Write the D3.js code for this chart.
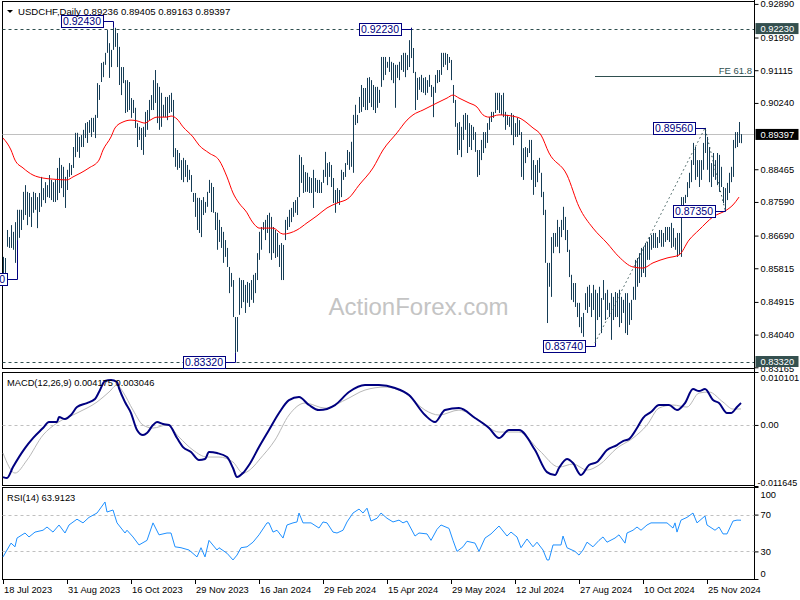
<!DOCTYPE html>
<html><head><meta charset="utf-8">
<script src="https://cdn.jsdelivr.net/npm/d3@7"></script>
<style>body{margin:0;background:#fff}svg{display:block}text{font-family:"Liberation Sans",Arial,sans-serif}</style>
</head><body>
<svg id="c" width="800" height="600"></svg>
<script>
const highs=[
0.8612,0.8609,0.8684,0.8665,0.8697,0.8679,0.8705,0.8738,0.8738,0.8738,
0.8786,0.8804,0.8786,0.8783,0.8772,0.8786,0.8783,0.8772,0.8783,0.8826,
0.8796,0.8812,0.8804,0.8831,0.8818,0.8812,0.8818,0.8850,0.8877,0.8858,
0.8853,0.8826,0.8845,0.8863,0.8858,0.8906,0.8944,0.8944,0.8933,0.8938,
0.8952,0.8970,0.8973,0.8978,0.8984,0.8984,0.8992,0.9077,0.9072,0.9131,
0.9134,0.9158,0.9219,0.9184,0.9166,0.9225,0.9225,0.9211,0.9174,0.9120,
0.9120,0.9085,0.9085,0.9080,0.9037,0.9032,0.9011,0.8970,0.8960,0.8957,
0.8960,0.9000,0.9005,0.9032,0.9045,0.9085,0.9112,0.9077,0.9067,0.9051,
0.9019,0.9040,0.9040,0.9045,0.9051,0.9032,0.8903,0.8898,0.8890,0.8871,
0.8877,0.8871,0.8858,0.8845,0.8831,0.8783,0.8783,0.8770,0.8770,0.8764,
0.8772,0.8759,0.8786,0.8818,0.8810,0.8799,0.8732,0.8730,0.8711,0.8692,
0.8679,0.8657,0.8636,0.8585,0.8569,0.8550,0.8451,0.8451,0.8556,0.8550,
0.8550,0.8537,0.8545,0.8542,0.8550,0.8564,0.8569,0.8622,0.8679,0.8692,
0.8705,0.8711,0.8724,0.8730,0.8719,0.8692,0.8684,0.8676,0.8644,0.8649,
0.8644,0.8711,0.8719,0.8738,0.8743,0.8759,0.8764,0.8772,0.8885,0.8879,
0.8858,0.8839,0.8837,0.8826,0.8823,0.8845,0.8823,0.8818,0.8818,0.8812,
0.8845,0.8893,0.8863,0.8866,0.8858,0.8823,0.8791,0.8796,0.8791,0.8845,
0.8839,0.8863,0.8898,0.8893,0.8920,0.8992,0.9019,0.8992,0.9040,0.9072,
0.9064,0.9064,0.9091,0.9093,0.9085,0.9072,0.9067,0.9067,0.9059,0.9147,
0.9147,0.9147,0.9134,0.9147,0.9134,0.9131,0.9126,0.9126,0.9134,0.9152,
0.9158,0.9158,0.9152,0.9192,0.9225,0.9171,0.9107,0.9091,0.9093,0.9099,
0.9091,0.9093,0.9085,0.9099,0.9072,0.9067,0.9099,0.9112,0.9112,0.9158,
0.9158,0.9158,0.9155,0.9147,0.9139,0.9072,0.9032,0.8970,0.8973,0.8960,
0.8992,0.8997,0.8992,0.8970,0.8965,0.8960,0.8946,0.8898,0.8898,0.8925,
0.8946,0.8946,0.8970,0.8986,0.9000,0.9000,0.9051,0.9051,0.9051,0.9045,
0.9051,0.9000,0.8992,0.8986,0.8997,0.8992,0.8970,0.8984,0.8978,0.8946,
0.8903,0.8906,0.8903,0.8925,0.8925,0.8871,0.8858,0.8871,0.8877,0.8837,
0.8786,0.8738,0.8596,0.8596,0.8665,0.8676,0.8676,0.8711,0.8692,0.8711,
0.8746,0.8719,0.8684,0.8631,0.8564,0.8542,0.8542,0.8489,0.8489,0.8451,
0.8462,0.8515,0.8532,0.8537,0.8515,0.8537,0.8524,0.8515,0.8532,0.8502,
0.8550,0.8515,0.8524,0.8489,0.8515,0.8505,0.8518,0.8515,0.8524,0.8505,
0.8497,0.8515,0.8515,0.8489,0.8497,0.8532,0.8604,0.8609,0.8622,0.8636,
0.8639,0.8649,0.8652,0.8665,0.8671,0.8676,0.8676,0.8665,0.8684,0.8684,
0.8676,0.8692,0.8692,0.8692,0.8703,0.8689,0.8663,0.8676,0.8676,0.8772,
0.8772,0.8778,0.8812,0.8837,0.8871,0.8917,0.8906,0.8871,0.8871,0.8871,
0.8917,0.8957,0.8933,0.8906,0.8863,0.8890,0.8871,0.8890,0.8885,0.8853,
0.8799,0.8796,0.8810,0.8837,0.8853,0.8925,0.8946,0.8946,0.8973,0.89405];
const lows=[
0.8558,0.8569,0.8639,0.8636,0.8636,0.8631,0.8596,0.8657,0.8663,0.8684,
0.8711,0.8724,0.8697,0.8719,0.8692,0.8730,0.8738,0.8689,0.8732,0.8746,
0.8764,0.8756,0.8772,0.8770,0.8764,0.8759,0.8759,0.8764,0.8783,0.8796,
0.8772,0.8743,0.8791,0.8826,0.8831,0.8850,0.8879,0.8893,0.8877,0.8906,
0.8906,0.8930,0.8917,0.8944,0.8933,0.8946,0.8930,0.8984,0.9032,0.9080,
0.9093,0.9126,0.9158,0.9091,0.9120,0.9166,0.9174,0.9120,0.9072,0.9045,
0.9077,0.8997,0.9000,0.9005,0.8984,0.8997,0.8957,0.8906,0.8925,0.8898,
0.8885,0.8933,0.8952,0.8978,0.9005,0.9005,0.9024,0.8970,0.8952,0.8960,
0.8986,0.8986,0.8978,0.8997,0.9000,0.8879,0.8853,0.8845,0.8850,0.8818,
0.8812,0.8826,0.8812,0.8818,0.8786,0.8759,0.8719,0.8684,0.8676,0.8665,
0.8724,0.8730,0.8746,0.8783,0.8732,0.8730,0.8684,0.8631,0.8652,0.8636,
0.8596,0.8612,0.8585,0.8515,0.8532,0.8451,0.8355,0.8358,0.8457,0.8475,
0.8491,0.8462,0.8489,0.8478,0.8497,0.8489,0.8515,0.8550,0.8604,0.8631,
0.8684,0.8657,0.8676,0.8622,0.8604,0.8622,0.8609,0.8612,0.8585,0.8550,
0.8550,0.8657,0.8684,0.8692,0.8705,0.8719,0.8730,0.8724,0.8772,0.8810,
0.8783,0.8786,0.8786,0.8783,0.8783,0.8743,0.8786,0.8783,0.8783,0.8783,
0.8810,0.8826,0.8804,0.8826,0.8799,0.8756,0.8730,0.8756,0.8751,0.8772,
0.8818,0.8826,0.8858,0.8845,0.8853,0.8837,0.8965,0.8970,0.8997,0.9000,
0.9013,0.9005,0.9005,0.9024,0.9013,0.9005,0.8997,0.9011,0.9024,0.9067,
0.9085,0.9099,0.9118,0.9107,0.9085,0.9077,0.9011,0.9091,0.9085,0.9112,
0.9107,0.9093,0.9112,0.9120,0.9144,0.9104,0.9005,0.9032,0.9059,0.9053,
0.9051,0.9045,0.9051,0.9067,0.9040,0.8986,0.9051,0.9077,0.9080,0.9099,
0.9120,0.9126,0.9112,0.9131,0.9085,0.9024,0.8960,0.8885,0.8898,0.8879,
0.8925,0.8952,0.8890,0.8906,0.8898,0.8925,0.8893,0.8826,0.8831,0.8871,
0.8890,0.8903,0.8917,0.8952,0.8973,0.8984,0.8997,0.9005,0.8997,0.8992,
0.8986,0.8952,0.8965,0.8960,0.8938,0.8911,0.8933,0.8933,0.8938,0.8826,
0.8818,0.8863,0.8879,0.8890,0.8818,0.8778,0.8799,0.8812,0.8837,0.8772,
0.8724,0.8596,0.8435,0.8532,0.8505,0.8622,0.8639,0.8639,0.8622,0.8665,
0.8684,0.8657,0.8625,0.8558,0.8497,0.8491,0.8478,0.8451,0.8424,0.8408,
0.8398,0.8470,0.8462,0.8478,0.8451,0.8470,0.8382,0.8443,0.8451,0.8408,
0.8497,0.8443,0.8470,0.8451,0.8390,0.8443,0.8451,0.8451,0.8424,0.8435,
0.8462,0.8408,0.8403,0.8430,0.8443,0.8497,0.8497,0.8532,0.8542,0.8558,
0.8569,0.8558,0.8604,0.8604,0.8631,0.8636,0.8636,0.8636,0.8649,0.8639,
0.8639,0.8652,0.8657,0.8652,0.8636,0.8639,0.8631,0.8612,0.8617,0.8612,
0.8730,0.8756,0.8772,0.8796,0.8812,0.8858,0.8818,0.8826,0.8799,0.8818,
0.8845,0.8890,0.8845,0.8812,0.8799,0.8826,0.8818,0.8804,0.8786,0.8799,
0.8756,0.8738,0.8764,0.8783,0.8812,0.8826,0.8903,0.8906,0.8917,0.89163];

const maIdx=[0,4,6,10,15,20,25,32,35,39,43,48,50,54,56,60,64,67,71,73,77,82,84,87,90,95,98,103,108,112,115,118,122,124,127,128,135,140,147,152,157,162,167,173,178,185,190,197,202,205,210,217,222,225,228,233,237,240,243,248,257,265,269,273,282,288,295,302,308,315,320,325,332,338,343,348,355,362,365,368];
const maVal=[0.8930,0.8898,0.8871,0.8850,0.8831,0.8823,0.8820,0.8818,0.8826,0.8837,0.8850,0.8871,0.8898,0.8933,0.8957,0.8973,0.8978,0.8976,0.8970,0.8976,0.8986,0.8986,0.8989,0.8981,0.8960,0.8933,0.8911,0.8890,0.8871,0.8826,0.8783,0.8756,0.8730,0.8711,0.8692,0.8689,0.8689,0.8673,0.8684,0.8703,0.8722,0.8743,0.8756,0.8770,0.8804,0.8850,0.8898,0.8944,0.8978,0.8992,0.9005,0.9024,0.9037,0.9045,0.9037,0.9024,0.9013,0.8992,0.8986,0.8992,0.8986,0.8957,0.8938,0.8890,0.8831,0.8746,0.8689,0.8649,0.8612,0.8585,0.8582,0.8596,0.8609,0.8617,0.8657,0.8684,0.8719,0.8738,0.8751,0.8772];

const macdIdx=[0,2,5,11,15,20,23,27,28,31,34,37,42,46,48,51,54,57,58,61,64,67,70,72,75,77,80,83,87,90,94,98,101,103,107,112,115,117,120,123,128,133,138,143,148,153,158,166,173,181,188,196,203,211,216,221,228,236,243,248,253,258,266,272,276,278,282,285,289,293,297,302,307,310,313,317,320,324,328,333,337,341,345,348,351,355,358,362,364,367,369];
const macdVal=[-0.00994,-0.01013,-0.00803,-0.00441,-0.00250,-0.00059,0.00055,0.00055,0.00151,0.00113,0.00189,0.00341,0.00418,0.00494,0.00628,0.00838,0.00857,0.00819,0.00704,0.00437,0.00227,-0.00097,-0.00193,-0.00155,-0.00002,0.00055,0.00017,-0.00002,-0.00250,-0.00422,-0.00517,-0.00670,-0.00650,-0.00517,-0.00536,-0.00612,-0.00822,-0.00994,-0.00918,-0.00765,-0.00422,-0.00097,0.00227,0.00475,0.00532,0.00380,0.00284,0.00380,0.00628,0.00761,0.00761,0.00704,0.00570,0.00189,0.00055,0.00284,0.00322,0.00132,-0.00059,-0.00250,-0.00097,-0.00097,-0.00479,-0.00899,-0.00956,-0.00822,-0.00650,-0.00727,-0.00956,-0.00765,-0.00708,-0.00479,-0.00383,-0.00307,-0.00269,-0.00059,0.00132,0.00246,0.00380,0.00380,0.00284,0.00418,0.00685,0.00647,0.00685,0.00475,0.00418,0.00227,0.00227,0.00341,0.00418];
const sigIdx=[0,6,12,20,27,37,47,53,57,60,65,70,75,82,88,95,102,108,115,120,125,128,136,143,151,161,171,181,191,201,211,218,228,238,248,258,268,278,285,292,298,307,315,322,328,335,342,348,353,360,365,369];
const sigVal=[-0.00536,-0.00918,-0.00670,-0.00193,0.00036,0.00227,0.00437,0.00628,0.00761,0.00628,0.00284,-0.00002,-0.00059,-0.00002,-0.00231,-0.00479,-0.00612,-0.00612,-0.00708,-0.00918,-0.00803,-0.00670,-0.00288,0.00189,0.00418,0.00322,0.00475,0.00666,0.00723,0.00609,0.00284,0.00189,0.00284,0.00093,-0.00135,-0.00135,-0.00479,-0.00803,-0.00746,-0.00860,-0.00765,-0.00441,-0.00250,-0.00002,0.00322,0.00380,0.00341,0.00609,0.00628,0.00437,0.00303,0.00305];

const rsiIdx=[0,2,4,6,7,11,13,16,20,22,25,28,31,33,37,40,43,47,51,52,55,57,61,62,65,68,72,75,78,82,84,86,89,93,97,99,101,103,107,108,112,115,117,119,122,125,128,132,133,135,137,140,142,145,147,148,150,154,158,160,162,165,167,170,172,175,178,180,182,184,187,189,192,195,198,200,202,206,208,212,214,217,219,223,225,227,230,232,236,238,241,244,248,252,254,257,259,262,265,267,270,272,273,275,279,280,282,286,288,290,292,295,298,300,302,306,308,311,312,315,317,319,322,324,327,332,335,336,337,339,342,345,347,351,352,356,358,360,362,365,367,369];
const rsiVal=[24,31.5,39,35,44.5,50,45.7,51,53,56.5,51,58.7,50,58.7,65,61,67,71.7,83.7,72.8,75,61,50,53,45.7,37,42,61,48,50,50,35,34,31.5,24,34,24,42,31.5,34,28,20.7,26,34,35,40,48,61,61,51,53,44.5,58.7,61,62,71.7,61,61,55.4,62,61,51,50,53,62,71.7,76,71.7,77,63,66,71.7,66,62,64,61,63,46.7,50,49,42,54,58.7,55,42,30,35,41,39,30,44.5,49,57.6,46.7,51,45.7,34,43.5,35,40,31.5,20.7,20.7,37,37,46.7,34,30,26,31.5,40,35,42,45.7,40,44.5,48,39,50,53,56.5,53,58.7,61,61,61,55.4,61,51,64,67,71.7,61,68.5,58.7,53,56.5,49,49,63,64,63.9];

const priceTicks=[0.92890,0.91990,0.91115,0.90240,0.88465,0.87590,0.86690,0.85815,0.84915,0.84040,0.83165];
const macdTicks=[0.010101,0,-0.011645];
const macdTickLabels=["0.010101","0.00","-0.011645"];
const rsiTicks=[100,70,30,0];
const rsiLevels=[70,30];
const dateIdx=[0,32,64,96,128,160,192,224,256,288,320,352];
const dateLabels=["18 Jul 2023","31 Aug 2023","16 Oct 2023","29 Nov 2023","16 Jan 2024","29 Feb 2024","15 Apr 2024","29 May 2024","12 Jul 2024","27 Aug 2024","10 Oct 2024","25 Nov 2024"];
const hlines=[0.92230,0.83320];
const lastPrice=0.89397;
const feLevel=0.90960, feStart=296;
const zzIdx=[296,351,361], zzVal=[0.8382,0.8957,0.8738];
const labelText=["0.85520","0.92430","0.83320","0.92230","0.83740","0.89560","0.87350"];
const labelIdx=[7,55,116,204,296,351,361];
const labelVal=[0.85520,0.92430,0.83320,0.92230,0.83740,0.89560,0.87350];
const labelSide=["low","high","low","high","low","high","low"];
const markedVals=[0.92230,0.89397,0.83320];
const markedFill=["#34504f","#000","#34504f"];

const svg=d3.select("#c");
const L=2.5,R=754.5;
const x=d3.scaleLinear().domain([0,369]).range([3,741]);
const yP=d3.scaleLinear().domain([0.83165,0.92890]).range([367.3,3.9]);
const yM=d3.scaleLinear().domain([-0.011645,0.010101]).range([486,372]);
const yR=d3.scaleLinear().domain([0,100]).range([579,487]);
const F="Liberation Sans, Arial, sans-serif";
const ink="#163d56";

// frames
[[1.5,368.5],[372.5,485.5],[487.5,579.5]].forEach(([a,b])=>{
  svg.append("rect").attr("x",L).attr("y",a).attr("width",R-L).attr("height",b-a).attr("fill","none").attr("stroke","#000").attr("stroke-width",1);
});

// main panel
const gP=svg.append("g");
gP.append("text").attr("x",(L+R)/2+40).attr("y",315).attr("text-anchor","middle").attr("font-size",24).attr("fill","#c4c4c4").attr("font-family",F).text("ActionForex.com");
gP.append("line").attr("x1",L).attr("x2",R).attr("y1",Math.round(yP(lastPrice))+0.5).attr("y2",Math.round(yP(lastPrice))+0.5).attr("stroke","#c0c0c0");
gP.selectAll("line.hl").data(hlines).join("line").attr("class","hl").attr("x1",L).attr("x2",R)
  .attr("y1",d=>Math.round(yP(d))+0.5).attr("y2",d=>Math.round(yP(d))+0.5).attr("stroke","#2f4f4f").attr("stroke-dasharray","3,3");
gP.append("line").attr("x1",x(feStart)).attr("x2",R).attr("y1",Math.round(yP(feLevel))+0.5).attr("y2",Math.round(yP(feLevel))+0.5).attr("stroke","#2f4f4f");
gP.append("text").attr("x",752).attr("y",yP(feLevel)-2.5).attr("text-anchor","end").attr("font-size",9.5).attr("font-family",F).attr("fill","#2f4f4f").text("FE 61.8");

gP.selectAll("rect.bar").data(highs).join("rect").attr("class","bar")
  .attr("x",(d,i)=>Math.round(x(i))).attr("width",1)
  .attr("y",d=>yP(d)).attr("height",(d,i)=>Math.max(1,yP(lows[i])-yP(d))).attr("fill",ink);

const lineP=d3.line().x(d=>x(d[0])).y(d=>yP(d[1])).curve(d3.curveMonotoneX);
gP.append("path").attr("d",lineP(maIdx.map((d,i)=>[d,maVal[i]]))).attr("fill","none").attr("stroke","#ff0000").attr("stroke-width",1);
gP.append("path").attr("d",d3.line().x(d=>x(d[0])).y(d=>yP(d[1]))(zzIdx.map((d,i)=>[d,zzVal[i]])))
  .attr("fill","none").attr("stroke","#2f4f4f").attr("stroke-dasharray","1.5,3");

// price labels with connectors
labelText.forEach((t,k)=>{
  const bx=x(labelIdx[k]);
  const ly=yP(labelVal[k]);
  const by=labelSide[k]==="high"?yP(highs[labelIdx[k]]):yP(lows[labelIdx[k]]);
  const w=42,h=12;
  gP.append("path").attr("d",`M${bx-10},${Math.round(ly)+0.5}H${Math.round(bx)+0.5}V${by}`).attr("fill","none").attr("stroke","#000080");
  gP.append("rect").attr("x",Math.round(bx-10-w)+0.5).attr("y",Math.round(ly-h/2)+0.5).attr("width",w).attr("height",h).attr("fill","#fff").attr("stroke","#000080");
  gP.append("text").attr("x",bx-10-w/2).attr("y",ly+4).attr("text-anchor","middle").attr("font-size",10.5).attr("font-family",F).attr("fill","#000080").text(t);
});

// title
svg.append("path").attr("d","M7,10H13L10,13Z").attr("fill","#000");
svg.append("text").attr("x",18).attr("y",14.5).attr("font-size",9.6).attr("font-family",F).attr("fill","#000").text("USDCHF,Daily  0.89236 0.89405 0.89163 0.89397");

// price axis
const axP=svg.append("g").attr("transform",`translate(${R},0)`).call(d3.axisRight(yP).tickValues(priceTicks).tickSize(4).tickPadding(2).tickFormat(d3.format(".5f")));
axP.select(".domain").remove();
axP.selectAll("text").attr("font-size",9.3).attr("font-family",F).attr("fill","#000");
axP.selectAll("line").attr("stroke","#000");
axP.selectAll(".tick").filter(d=>d===0.83165).select("text").attr("dy","0.5em");
markedVals.forEach((v,k)=>{
  const yy=yP(v);
  svg.append("rect").attr("x",R+1).attr("y",yy-5.5).attr("width",43).attr("height",11).attr("fill",markedFill[k]);
  svg.append("text").attr("x",R+6).attr("y",yy+3.3).attr("font-size",9.3).attr("font-family",F).attr("fill","#fff").text(d3.format(".5f")(v));
});
svg.append("line").attr("x1",R).attr("x2",R).attr("y1",0).attr("y2",580).attr("stroke","#000");

// MACD panel
const gM=svg.append("g");
gM.append("line").attr("x1",L).attr("x2",R).attr("y1",Math.round(yM(0))+0.5).attr("y2",Math.round(yM(0))+0.5).attr("stroke","#c0c0c0").attr("stroke-dasharray","3,3");
const lineM=d3.line().x(d=>x(d[0])).y(d=>yM(d[1])).curve(d3.curveMonotoneX);
gM.append("path").attr("d",lineM(sigIdx.map((d,i)=>[d,sigVal[i]]))).attr("fill","none").attr("stroke","#b8b8b8").attr("stroke-width",1);
gM.append("path").attr("d",lineM(macdIdx.map((d,i)=>[d,macdVal[i]]))).attr("fill","none").attr("stroke","#000080").attr("stroke-width",2);
gM.append("text").attr("x",7).attr("y",385.5).attr("font-size",9.3).attr("font-family",F).attr("fill","#000").text("MACD(12,26,9) 0.004175 0.003046");
const axM=svg.append("g").attr("transform",`translate(${R},0)`).call(d3.axisRight(yM).tickValues(macdTicks).tickSize(4).tickPadding(2).tickFormat((d,i)=>macdTickLabels[i]));
axM.select(".domain").remove();
axM.selectAll("text").attr("font-size",9.3).attr("font-family",F).attr("fill","#000");
axM.selectAll(".tick").filter(d=>d>0).select("text").attr("dy","0.9em");
axM.selectAll(".tick").filter(d=>d<0).select("text").attr("dy","-0.1em").attr("x",3).attr("font-size",9);

// RSI panel
const gR=svg.append("g");
gR.selectAll("line.lv").data(rsiLevels).join("line").attr("class","lv").attr("x1",L).attr("x2",R)
  .attr("y1",d=>Math.round(yR(d))+0.5).attr("y2",d=>Math.round(yR(d))+0.5).attr("stroke","#c0c0c0").attr("stroke-dasharray","3,3");
gR.append("path").attr("d",d3.line().x(d=>x(d[0])).y(d=>yR(d[1]))(rsiIdx.map((d,i)=>[d,rsiVal[i]]))).attr("fill","none").attr("stroke","#1e90ff").attr("stroke-width",1);
gR.append("text").attr("x",7).attr("y",500.5).attr("font-size",9.3).attr("font-family",F).attr("fill","#000").text("RSI(14) 63.9123");
const axR=svg.append("g").attr("transform",`translate(${R},0)`).call(d3.axisRight(yR).tickValues(rsiTicks).tickSize(4).tickPadding(2));
axR.select(".domain").remove();
axR.selectAll("text").attr("font-size",9.3).attr("font-family",F).attr("fill","#000");
axR.selectAll(".tick").filter(d=>d===100).select("text").attr("dy","1.1em");
axR.selectAll(".tick").filter(d=>d===0).select("text").attr("dy","-0.3em");

// date axis
const gD=svg.append("g");
gD.selectAll("line").data(dateIdx).join("line").attr("x1",d=>Math.round(x(d))+0.5).attr("x2",d=>Math.round(x(d))+0.5).attr("y1",579).attr("y2",584).attr("stroke","#000");
gD.selectAll("text").data(dateLabels).join("text").attr("x",(d,i)=>x(dateIdx[i])+1).attr("y",592.5).attr("font-size",9.3).attr("font-family",F).attr("fill","#000").text(d=>d);
</script>
</body></html>
